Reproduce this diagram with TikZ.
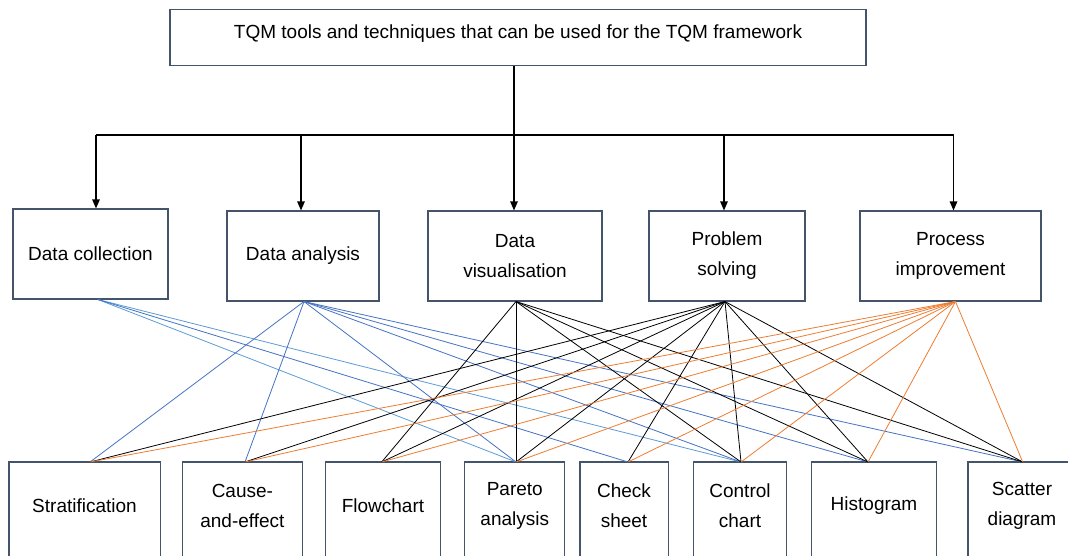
\documentclass[tikz,border=0pt]{standalone}
\usepackage{fontspec}
\setmainfont{Liberation Sans}
\usetikzlibrary{arrows.meta}

\definecolor{frame}{RGB}{68,84,106}
\definecolor{lightblue}{RGB}{91,155,213}
\definecolor{midblue}{RGB}{68,114,196}
\definecolor{linkorange}{RGB}{237,125,49}

\tikzset{
  box/.style={draw=frame, line width=1.1pt, inner sep=0pt, align=center,
    font=\fontsize{19}{30}\selectfont},
  tool/.style={box, draw=none, anchor=north, minimum height=86pt},
  branch/.style={line width=1.2pt, -{Triangle[length=9pt,width=7.5pt]}},
  link/.style={line width=0.8pt},
}

\begin{document}
\begin{tikzpicture}[x=1pt,y=-1pt]
  \useasboundingbox (0,0) rectangle (1068,556);
  \clip (0,0) rectangle (1068,556);

  % title box
  \node[box, minimum width=696pt, minimum height=56pt, text depth=11pt] (tqm)
    at (518,37.5) {TQM tools and techniques that can be used for the TQM framework};

  % the five categories
  \foreach \name/\x/\y/\w/\txt in {
      dc/90.5/254/155/Data collection,
      da/303/256/152/Data analysis,
      dv/515/256/174/Data\\visualisation,
      ps/727/256/156/Problem\\solving,
      pi/950.5/256/181/Process\\improvement%
    } {
      \node[box, minimum width=\w pt, minimum height=90pt] (\name) at (\x,\y) {\txt};
    };

  % the eight tools (open at the bottom)
  \foreach \name/\x/\w/\txt in {
      st/84.5/150/Stratification,
      ce/242.4/119/Cause-\\and-effect,
      fc/383/114/Flowchart,
      pa/514.8/99/Pareto\\analysis,
      cs/624/87/Check\\sheet,
      cc/740/92/Control\\chart,
      hg/874/124/Histogram,
      sd/1022/107/Scatter\\diagram%
    } {
      \node[tool, minimum width=\w pt] (\name) at (\x,462) {\txt};
      \draw[draw=frame, line width=1.1pt] ([yshift=-40pt]\name.south west)
        |- (\name.north east) -- ([yshift=-40pt]\name.south east);
    };

  % tree from the title
  \coordinate (trunk) at ([xshift=-4pt]tqm.south);
  \coordinate (hub) at (0,135);
  \foreach \name/\dx in {dc/5.5, da/-2, dv/-1, ps/-3, pi/3}
    \coordinate (\name-in) at ([xshift=\dx pt]\name.north);
  \draw[line width=1.2pt] (trunk) -- (trunk |- hub);
  \draw[line width=1.2pt] (dc-in |- hub) -- (pi-in |- hub);
  \foreach \name in {dc,da,dv,ps,pi}
    \draw[branch] (\name-in |- hub) -- (\name-in);

  % where the links meet the boxes
  \foreach \name/\dx in {dc/7.5, da/1, dv/1, ps/-2, pi/5}
    \coordinate (\name-out) at ([xshift=\dx pt]\name.south);
  \foreach \name/\dx in {st/5.5, ce/2.6, fc/-1.3, pa/1.2, cs/4, cc/1, hg/-6, sd/0.7}
    \coordinate (\name-top) at ([xshift=\dx pt]\name.north);

  % links category -> tool
  \foreach \src/\col/\tgts in {
      dc/lightblue/{pa,cc},
      dc/midblue/{cs},
      da/midblue/{st,ce,pa,cc,hg,sd},
      dv/black/{fc,pa,cc,hg,sd},
      ps/black/{st,ce,fc,pa,cs,cc,hg,sd},
      pi/linkorange/{st,ce,fc,pa,cs,cc,hg,sd}%
    } {
      \foreach \tgt in \tgts
        \draw[link, draw=\col] (\src-out) -- (\tgt-top);
    };
\end{tikzpicture}
\end{document}
